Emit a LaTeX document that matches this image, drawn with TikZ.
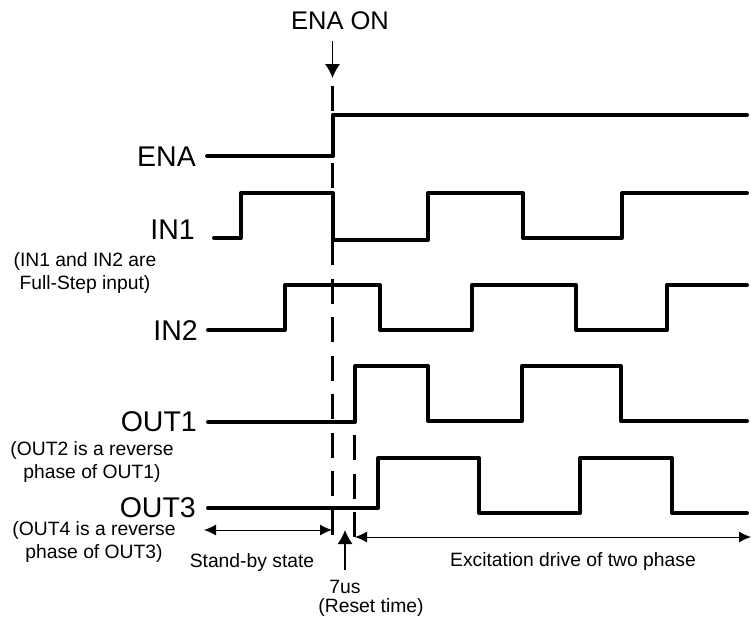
\documentclass[tikz,border=0pt]{standalone}
\usepackage{fontspec}
\setmainfont{Liberation Sans}
\usetikzlibrary{arrows.meta}
\tikzset{
  wave/.style={line width=4pt,line join=round,line cap=round},
  guide/.style={line width=2.4pt,dash pattern=on 25pt off 13.5pt},
  span/.style={line width=1pt,{Latex[length=12pt,width=11pt]}-{Latex[length=12pt,width=11pt]}},
  pointer/.style={line width=1.2pt,-{Latex[length=14pt,width=15pt]}},
  big/.style={font=\fontsize{28.5}{28.5}\selectfont,inner sep=0pt},
  small/.style={font=\fontsize{19.3}{22.5}\selectfont,inner sep=0pt,align=center}
}
\begin{document}
\begin{tikzpicture}[x=1pt,y=-1pt]
\useasboundingbox (0,0) rectangle (751,619);
\node[big,font=\fontsize{25.5}{25.5}\selectfont] (enaon) at (340,21) {ENA ON};
\coordinate (enatop) at (332.5,41);
\coordinate (enatip) at (332.5,78);
\draw[pointer] (enatop) -- (enatip);
\draw[guide] (332.5,86) -- (332.5,537);
\draw[guide] (354.5,435) -- (354.5,537);
\draw[wave] (207,156) -- (333,156) -- (333,115) -- (747,115);
\draw[wave] (214,238) -- (241,238) -- (241,193) -- (333,193) -- (333,240);
\draw[wave] (333,240) -- (428,240) -- (428,193) -- (523,193) -- (523,238) -- (622,238) -- (622,193) -- (747,193);
\draw[wave] (208,330) -- (285,330) -- (285,285) -- (380,285) -- (380,330) -- (472,330) -- (472,285) -- (576,285) -- (576,330) -- (667,330) -- (667,285) -- (747,285);
\draw[wave] (208,422) -- (355,422) -- (355,366) -- (428,366) -- (428,421) -- (522,421) -- (522,366) -- (621,366) -- (621,421) -- (747,421);
\draw[wave] (208,508) -- (378,508) -- (378,458) -- (479,458) -- (479,513) -- (580,513) -- (580,458) -- (672,458) -- (672,513) -- (747,513);
\node[big,anchor=east] (ena) at (196,157) {ENA};
\node[big,anchor=east] (inone) at (195,230) {IN1};
\node[big,anchor=east] (intwo) at (198,331) {IN2};
\node[big,anchor=east] (outone) at (197,422) {OUT1};
\node[big,anchor=east] (outthree) at (196,508) {OUT3};
\node[small] (innote) at (85,273) {(IN1 and IN2 are\\Full-Step input)};
\node[small] (outtwonote) at (92,462) {(OUT2 is a reverse\\phase of OUT1)};
\node[small] (outfournote) at (94,542) {(OUT4 is a reverse\\phase of OUT3)};
\node[small] (standby) at (252,562) {Stand-by state};
\node[small] (excite) at (573,561) {Excitation drive of two phase};
\node[small] (resetval) at (345,587) {7us};
\node[small] (resetnote) at (371,607) {(Reset time)};
\coordinate (standl) at (204,530);
\coordinate (standr) at (332,530);
\coordinate (excitel) at (355,537);
\coordinate (exciter) at (751,537);
\coordinate (resettail) at (345,570);
\coordinate (resettip) at (345,530);
\draw[span] (standl) -- (standr);
\draw[span] (excitel) -- (exciter);
\draw[pointer] (resettail) -- (resettip);
\end{tikzpicture}
\end{document}
